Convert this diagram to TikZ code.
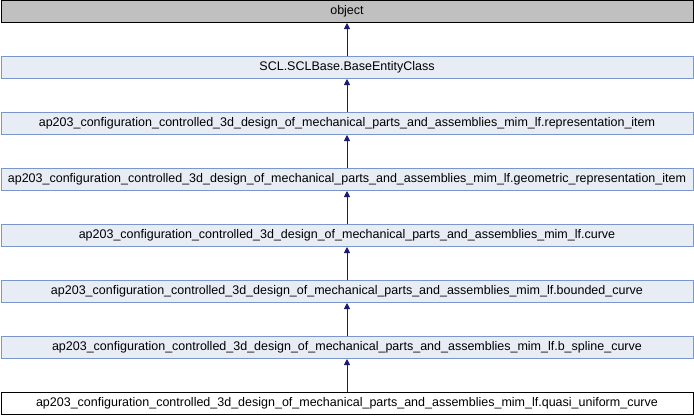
\documentclass[tikz,border=0pt]{standalone}
\usepackage{fontspec}
\setmainfont{Liberation Sans}
\usetikzlibrary{arrows.meta}
\definecolor{clsfill}{RGB}{232,236,244}
\definecolor{clsdraw}{RGB}{122,150,204}
\definecolor{rootfill}{RGB}{192,192,192}
\definecolor{edgecol}{RGB}{25,25,112}
\begin{document}
\begin{tikzpicture}[x=1pt,y=-1pt,
  cls/.style={draw=clsdraw, fill=clsfill, line width=1pt, minimum width=692pt,
    minimum height=22pt, inner sep=0pt, font=\fontsize{12.5}{14}\selectfont},
  rootcls/.style={cls, draw=black, fill=rootfill},
  curcls/.style={cls, draw=black, fill=white},
  inherit/.style={draw=edgecol, line width=0.8pt, -{Triangle[length=6pt,width=6pt]}}]
\useasboundingbox (0,0) rectangle (694,416);
\node[rootcls] (n0) at (347,11.5) {object};
\node[cls] (n1) at (347,67.5) {SCL.SCLBase.BaseEntityClass};
\node[cls] (n2) at (347,123.5) {ap203\_configuration\_controlled\_3d\_design\_of\_mechanical\_parts\_and\_assemblies\_mim\_lf.representation\_item};
\node[cls] (n3) at (347,179.5) {ap203\_configuration\_controlled\_3d\_design\_of\_mechanical\_parts\_and\_assemblies\_mim\_lf.geometric\_representation\_item};
\node[cls] (n4) at (347,235.5) {ap203\_configuration\_controlled\_3d\_design\_of\_mechanical\_parts\_and\_assemblies\_mim\_lf.curve};
\node[cls] (n5) at (347,291.5) {ap203\_configuration\_controlled\_3d\_design\_of\_mechanical\_parts\_and\_assemblies\_mim\_lf.bounded\_curve};
\node[cls] (n6) at (347,347.5) {ap203\_configuration\_controlled\_3d\_design\_of\_mechanical\_parts\_and\_assemblies\_mim\_lf.b\_spline\_curve};
\node[curcls] (n7) at (347,403.5) {ap203\_configuration\_controlled\_3d\_design\_of\_mechanical\_parts\_and\_assemblies\_mim\_lf.quasi\_uniform\_curve};
\foreach \a/\b in {n1/n0,n2/n1,n3/n2,n4/n3,n5/n4,n6/n5,n7/n6}
  \draw[inherit] (\a.north) -- (\b.south);
\end{tikzpicture}
\end{document}
